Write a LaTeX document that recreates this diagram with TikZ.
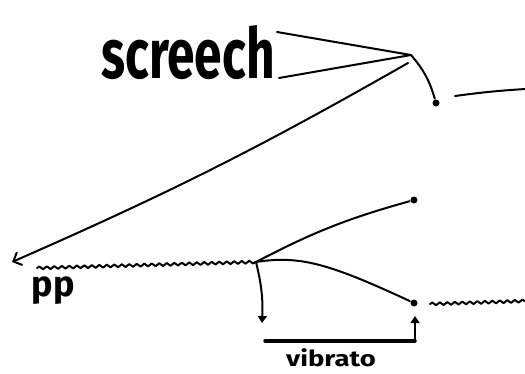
\documentclass[tikz,border=0pt]{standalone}
\usepackage{fontspec}
\setmainfont{Fira Sans}
\usetikzlibrary{decorations.pathmorphing,arrows.meta}
\begin{document}
\begin{tikzpicture}[x=1pt,y=-1pt, line width=2pt, line cap=round, line join=round,
  wave/.style={decorate, decoration={snake, amplitude=1.4pt, segment length=7.5pt}},
  enddot/.style={circle, fill, inner sep=0pt, minimum size=7pt},
  lbl/.style={inner sep=0pt}]
\useasboundingbox (0,0) rectangle (525,373);
\node[lbl, anchor=base, font=\fontsize{70}{72}\selectfont\bfseries, xscale=0.71] (scr) at (188,78) {screech};
\node[lbl, font=\fontsize{36}{38}\selectfont\bfseries] (pp) at (53,291) {pp};
\node[lbl, anchor=base, font=\fontsize{22}{24}\selectfont\bfseries, xscale=1.25] (vib) at (331,366) {vibrato};
\coordinate (v) at (411,55);
\coordinate (t1) at (277,32);
\coordinate (t2) at (279,78);
\draw (t1) -- (v) -- (t2);
\node[enddot] (d1) at (436,103) {};
\draw (v) to[bend left=12] (d1);
\coordinate (r1) at (455,96);
\coordinate (r2) at (525,89);
\draw (r1) to[bend left=2] (r2);
\coordinate (v2) at (408,63);
\coordinate (a) at (12,262);
\draw[-{Straight Barb[length=7pt,width=14pt,line width=2pt]}] (v2) to[bend left=3] (a);
\coordinate (w1) at (37,268);
\coordinate (j) at (256,262);
\draw[wave] (w1) -- (j);
\node[enddot] (d2) at (414,200) {};
\draw (j) to[bend left=6] (d2);
\node[enddot] (d3) at (414,303) {};
\draw (j) .. controls (300,255) and (330,264) .. (d3);
\coordinate (b) at (262,323);
\draw[-{Triangle[length=7pt,width=9pt]}] (j) to[bend left=8] (b);
\coordinate (w2) at (430,304);
\coordinate (w3) at (525,301);
\draw[wave] (w2) -- (w3);
\coordinate (k1) at (265,341);
\coordinate (k2) at (415,341);
\coordinate (k3) at (415,316);
\draw[line width=3.5pt] (k1) -- (k2);
\draw[-{Triangle[length=7pt,width=9pt]}] (k2) -- (k3);
\end{tikzpicture}
\end{document}
